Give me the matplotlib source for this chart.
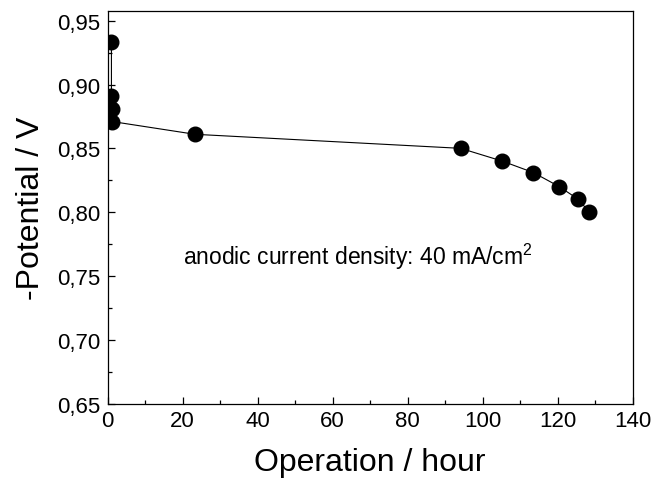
import matplotlib
matplotlib.use("Agg")
import matplotlib.pyplot as plt
from matplotlib.ticker import MultipleLocator, FuncFormatter

plt.rcParams["font.family"] = ["Liberation Sans", "DejaVu Sans"]
plt.rcParams["mathtext.fontset"] = "custom"
plt.rcParams["mathtext.rm"] = "Liberation Sans"

hours = [1.0, 1.0, 1.1, 1.2, 23.3, 94.1, 105.2, 113.5, 120.4, 125.5, 128.4]
potential = [0.933, 0.891, 0.881, 0.871, 0.861, 0.850, 0.840, 0.831, 0.820, 0.810, 0.800]

fig = plt.figure(figsize=(6.51, 4.81), dpi=100)
ax = fig.add_axes([0.1654, 0.159, 0.8066, 0.817])

ax.plot(hours, potential, color="black", linewidth=0.8,
        marker="o", markersize=10.5, markerfacecolor="black", markeredgecolor="black")

ax.set_xlim(0, 140)
ax.set_ylim(0.65, 0.958)
ax.xaxis.set_major_locator(MultipleLocator(20))
ax.xaxis.set_minor_locator(MultipleLocator(10))
ax.yaxis.set_major_locator(MultipleLocator(0.05))
ax.yaxis.set_minor_locator(MultipleLocator(0.025))
ax.yaxis.set_major_formatter(FuncFormatter(lambda v, p: f"{v:.2f}".replace(".", ",")))

ax.tick_params(which="both", direction="in", top=False, right=False, labelsize=16, width=0.9)
ax.tick_params(which="major", length=5, pad=5)
ax.tick_params(which="minor", length=3)
for s in ax.spines.values():
    s.set_linewidth(0.9)

ax.set_xlabel("Operation / hour", fontsize=23, labelpad=11)
ax.set_ylabel("-Potential / V", fontsize=23, labelpad=8)

ax.text(20, 0.7595, "anodic current density: 40 mA/cm$^2$", fontsize=16.5, va="baseline", ha="left")

fig.savefig("out.png", dpi=100)
